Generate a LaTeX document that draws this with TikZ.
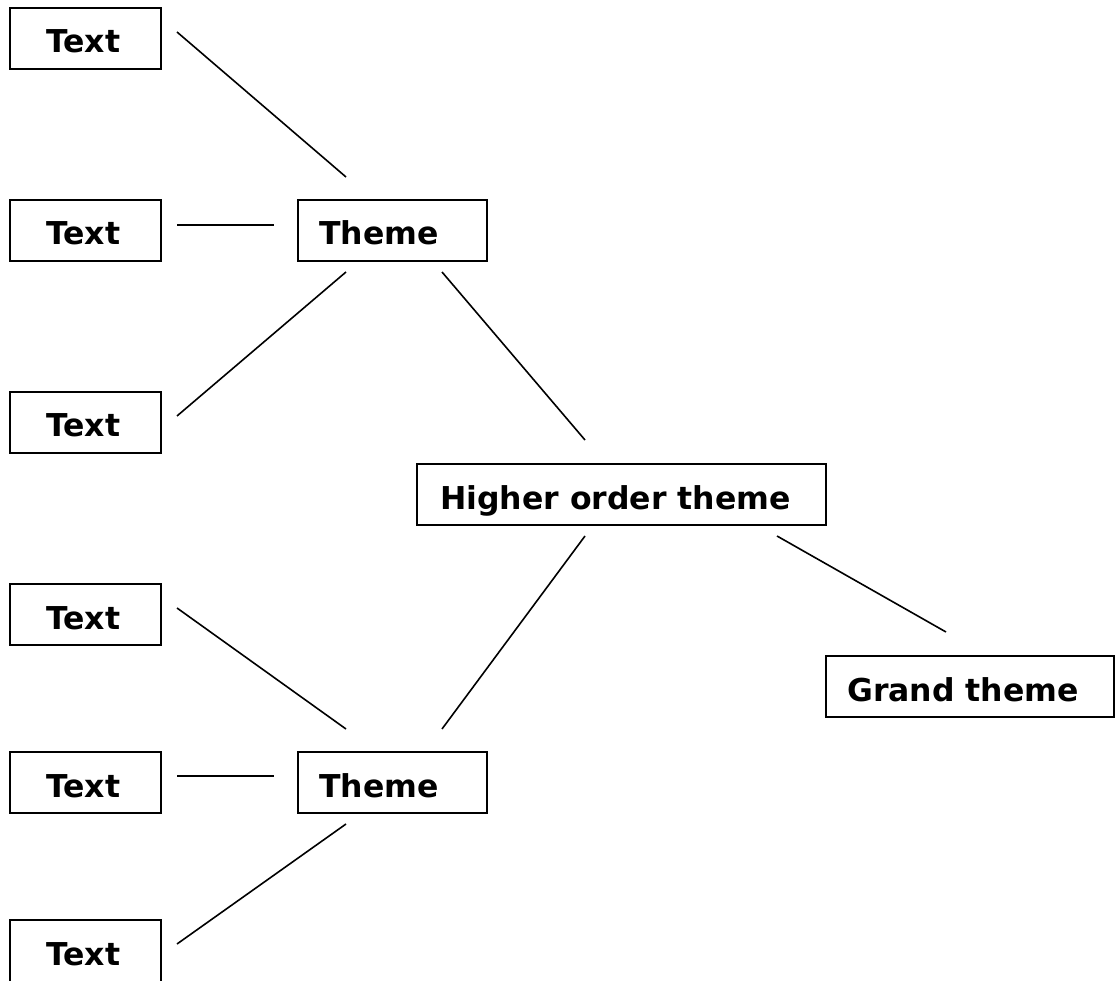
\documentclass[tikz,border=0pt]{standalone}
\usepackage{fontspec}
\setmainfont{DejaVu Sans}
\begin{document}
\begin{tikzpicture}[x=1pt,y=-1pt,
  box/.style={draw=black,line width=2pt,fill=white},
  lbl/.style={anchor=base west,inner sep=0pt,font=\fontsize{31.5}{31.5}\selectfont\bfseries},
  link/.style={draw=black,line width=1.6pt}]
\useasboundingbox (0,0) rectangle (1117,981);
% boxes
\path[box] (10,8) rectangle (161,69);
\path[box] (10,200) rectangle (161,261);
\path[box] (10,392) rectangle (161,453);
\path[box] (10,584) rectangle (161,645);
\path[box] (10,752) rectangle (161,813);
\path[box] (10,920) rectangle (161,990);
\path[box] (298,200) rectangle (487,261);
\path[box] (298,752) rectangle (487,813);
\path[box] (417,464) rectangle (826,525);
\path[box] (826,656) rectangle (1114,717);
% labels
\node[lbl] (t1) at (46,53) {Text};
\node[lbl] (t2) at (46,245) {Text};
\node[lbl] (t3) at (46,437) {Text};
\node[lbl] (t4) at (46,629) {Text};
\node[lbl] (t5) at (46,797) {Text};
\node[lbl] (t6) at (46,965) {Text};
\node[lbl] (th1) at (319,245) {Theme};
\node[lbl] (th2) at (319,797) {Theme};
\node[lbl] (ho) at (440,509) {Higher order theme};
\node[lbl] (gt) at (847,701) {Grand theme};
% connector end points
\coordinate (a1) at (177,32);  \coordinate (b1) at (346,177);
\coordinate (a2) at (177,225); \coordinate (b2) at (274,225);
\coordinate (a3) at (177,416); \coordinate (b3) at (346,272);
\coordinate (a4) at (442,272); \coordinate (b4) at (585,440);
\coordinate (a5) at (585,536); \coordinate (b5) at (442,729);
\coordinate (a6) at (777,536); \coordinate (b6) at (946,632);
\coordinate (a7) at (177,608); \coordinate (b7) at (346,729);
\coordinate (a8) at (177,776); \coordinate (b8) at (274,776);
\coordinate (a9) at (177,944); \coordinate (b9) at (346,824);
% connectors
\foreach \i in {1,...,9} \draw[link] (a\i) -- (b\i);
\end{tikzpicture}
\end{document}
